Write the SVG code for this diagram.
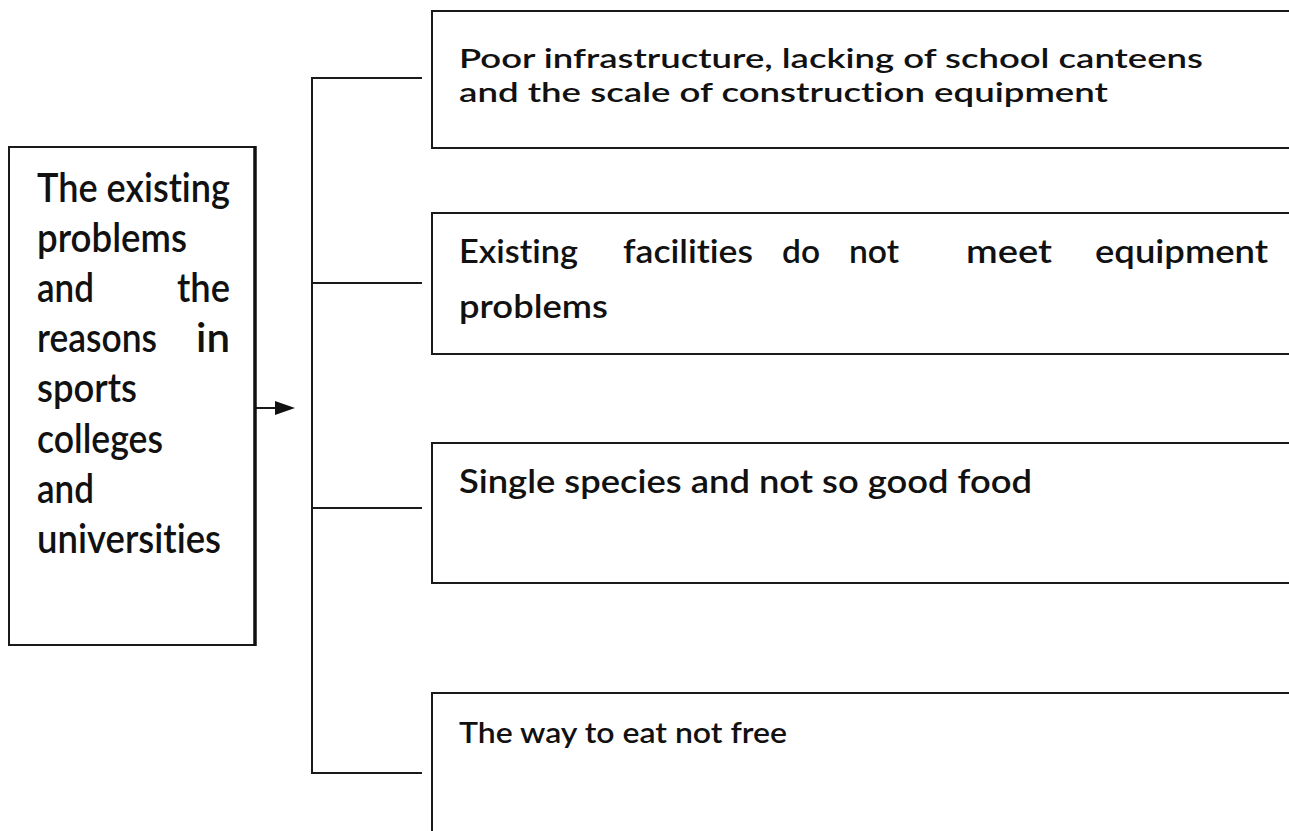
<svg xmlns="http://www.w3.org/2000/svg" width="1289" height="831" viewBox="0 0 1289 831">
<style>
  .box { fill: none; stroke: #1a1a1a; stroke-width: 2; }
  .conn { fill: none; stroke: #1a1a1a; stroke-width: 2; }
  .t { font-family: Lato, "Open Sans", "Liberation Sans", sans-serif; font-weight: 600; fill: #111; font-variant-ligatures: none; font-feature-settings: "liga" 0, "clig" 0; }
  .big { font-size: 40px; }
  .b1 { font-size: 26px; }
  .b2 { font-size: 32px; }
  .b3 { font-size: 33px; }
  .b4 { font-size: 29px; }
</style>
<rect width="1289" height="831" fill="#fff"/>

<g id="connectors">
  <line class="conn" x1="255" y1="408" x2="280" y2="408"/>
  <path d="M275,401 L295,408 L275,415 Z" fill="#111"/>
  <line class="conn" x1="312" y1="77" x2="312" y2="774"/>
  <line class="conn" x1="311" y1="78" x2="422" y2="78"/>
  <line class="conn" x1="311" y1="283" x2="422" y2="283"/>
  <line class="conn" x1="311" y1="508" x2="422" y2="508"/>
  <line class="conn" x1="311" y1="773" x2="422" y2="773"/>
</g>

<g id="node-main">
  <rect class="box" x="9" y="147" width="246" height="498"/>
  <line x1="255" y1="146" x2="255" y2="646" stroke="#111" stroke-width="3.5"/>
  <text class="t big" x="37" y="202" textLength="193" lengthAdjust="spacingAndGlyphs">The existing</text>
  <text class="t big" x="37" y="252" textLength="150" lengthAdjust="spacingAndGlyphs">problems</text>
  <text class="t big" x="37" y="302" textLength="57" lengthAdjust="spacingAndGlyphs">and</text>
  <text class="t big" x="177" y="302" textLength="53" lengthAdjust="spacingAndGlyphs">the</text>
  <text class="t big" x="37" y="352" textLength="120" lengthAdjust="spacingAndGlyphs">reasons</text>
  <text class="t big" x="196" y="352" textLength="34" lengthAdjust="spacingAndGlyphs">in</text>
  <text class="t big" x="37" y="402" textLength="100" lengthAdjust="spacingAndGlyphs">sports</text>
  <text class="t big" x="37" y="453" textLength="126" lengthAdjust="spacingAndGlyphs">colleges</text>
  <text class="t big" x="37" y="503" textLength="57" lengthAdjust="spacingAndGlyphs">and</text>
  <text class="t big" x="37" y="553" textLength="184" lengthAdjust="spacingAndGlyphs">universities</text>
</g>

<g id="node-1">
  <path class="box" d="M1289,11 H432 V148 H1289"/>
  <text class="t b1" x="459" y="68" textLength="744" lengthAdjust="spacingAndGlyphs">Poor infrastructure, lacking of school canteens</text>
  <text class="t b1" x="459" y="102" textLength="649" lengthAdjust="spacingAndGlyphs">and the scale of construction equipment</text>
</g>

<g id="node-2">
  <path class="box" d="M1289,213 H432 V354 H1289"/>
  <text class="t b2" x="459" y="263" textLength="119" lengthAdjust="spacingAndGlyphs">Existing</text>
  <text class="t b2" x="623" y="263" textLength="130" lengthAdjust="spacingAndGlyphs">facilities</text>
  <text class="t b2" x="782" y="263" textLength="38" lengthAdjust="spacingAndGlyphs">do</text>
  <text class="t b2" x="849" y="263" textLength="50" lengthAdjust="spacingAndGlyphs">not</text>
  <text class="t b2" x="966" y="263" textLength="86" lengthAdjust="spacingAndGlyphs">meet</text>
  <text class="t b2" x="1095" y="263" textLength="173" lengthAdjust="spacingAndGlyphs">equipment</text>
  <text class="t b2" x="459" y="318" textLength="149" lengthAdjust="spacingAndGlyphs">problems</text>
</g>

<g id="node-3">
  <path class="box" d="M1289,443 H432 V583 H1289"/>
  <text class="t b3" x="459" y="493" textLength="573" lengthAdjust="spacingAndGlyphs">Single species and not so good food</text>
</g>

<g id="node-4">
  <path class="box" d="M1289,693 H432 V840"/>
  <text class="t b4" x="459" y="743" textLength="328" lengthAdjust="spacingAndGlyphs">The way to eat not free</text>
</g>
</svg>
